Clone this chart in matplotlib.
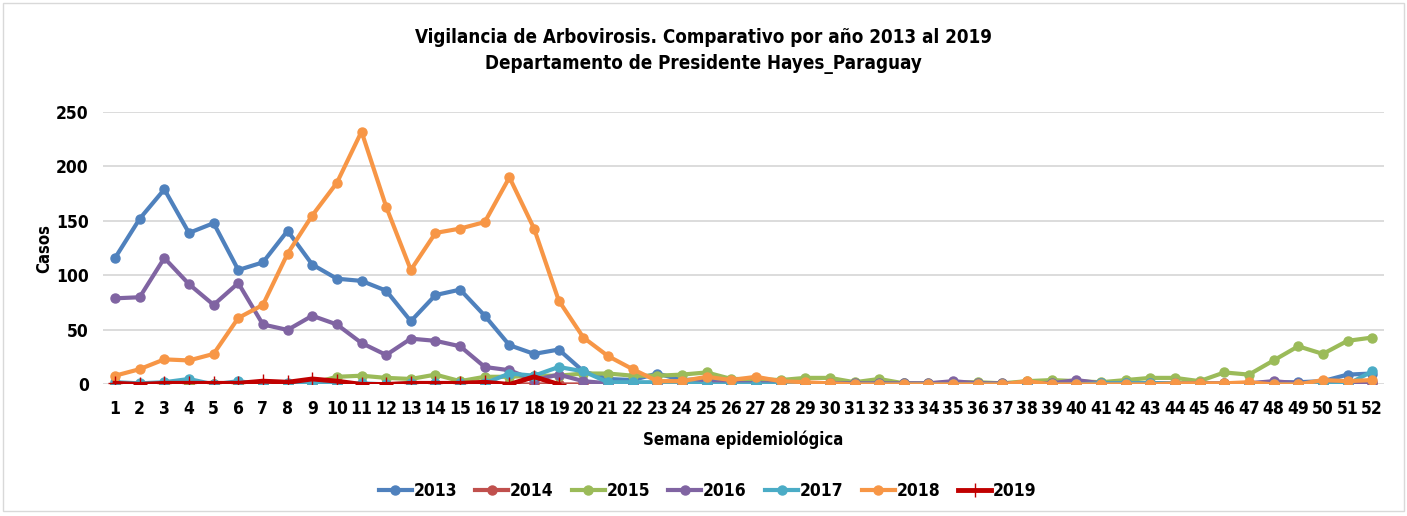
import matplotlib
matplotlib.use("Agg")
import matplotlib.pyplot as plt
from matplotlib.patches import Rectangle

plt.rcParams['font.family'] = ['DejaVu Sans']
plt.rcParams['font.stretch'] = 'condensed'

# data: cases per epidemiological week
semanas = list(range(1, 53))

c2013 = [116, 152, 179, 139, 148, 105, 112, 141, 110, 97, 95, 86, 58, 82, 87, 63, 36, 28, 32, 12,
         5, 4, 10, 4, 5, 3, 2, 1, 1, 1, 1, 1, 1, 0, 1, 1, 0, 1, 1, 1,
         1, 1, 1, 1, 1, 1, 1, 2, 2, 3, 9, 10]
c2014 = [0, 0, 0, 0, 0, 0, 0, 0, 0, 0, 0, 0, 0, 0, 0, 0, 0, 0, 0, 0,
         0, 0, 0, 0, 0, 0, 0, 0, 0, 0, 0, 0, 0, 0, 0, 0, 0, 0, 0, 0,
         0, 0, 0, 0, 0, 0, 0, 0, 0, 0, 0, 1]
c2015 = [0, 0, 0, 0, 0, 0, 0, 0, 1, 7, 8, 6, 5, 9, 3, 7, 7, 8, 8, 10,
         10, 8, 8, 9, 11, 5, 5, 4, 6, 6, 2, 5, 1, 1, 2, 2, 1, 3, 4, 3,
         2, 4, 6, 6, 3, 11, 9, 22, 35, 28, 40, 43]
c2016 = [79, 80, 116, 92, 73, 93, 55, 50, 63, 55, 38, 27, 42, 40, 35, 16, 13, 4, 9, 3,
         1, 1, 1, 1, 2, 1, 1, 1, 1, 1, 1, 1, 1, 1, 3, 1, 1, 1, 1, 4,
         1, 1, 1, 1, 1, 1, 1, 3, 1, 2, 2, 2]
c2017 = [2, 1, 2, 5, 0, 3, 0, 1, 1, 0, 1, 0, 1, 1, 1, 1, 10, 8, 16, 12,
         2, 2, 2, 2, 0, 0, 0, 0, 0, 0, 0, 0, 0, 0, 0, 0, 0, 0, 0, 0,
         1, 1, 1, 1, 0, 0, 0, 0, 0, 0, 0, 12]
c2018 = [8, 14, 23, 22, 28, 61, 73, 120, 155, 185, 232, 163, 105, 139, 143, 149, 190, 143, 77, 43,
         26, 14, 3, 3, 7, 4, 7, 3, 2, 1, 0, 0, 0, 0, 0, 0, 0, 3, 0, 0,
         0, 0, 0, 1, 1, 1, 2, 0, 0, 4, 3, 4]
sem2019 = list(range(1, 20))
c2019 = [1, 0, 1, 1, 1, 1, 3, 2, 5, 3, 0, 0, 1, 1, 1, 2, 0, 7, 0]

series = [
    ("2013", semanas, c2013, "#4F81BD"),
    ("2014", semanas, c2014, "#C0504D"),
    ("2015", semanas, c2015, "#9BBB59"),
    ("2016", semanas, c2016, "#8064A2"),
    ("2017", semanas, c2017, "#4BACC6"),
    ("2018", semanas, c2018, "#F79646"),
]

fig = plt.figure(figsize=(14.07, 5.16), dpi=100)
ax = fig.add_axes([0.073, 0.255, 0.911, 0.528])

for lab, x, y, col in series:
    ax.plot(x, y, color=col, lw=3, marker='o', ms=6.5, label=lab, zorder=3)
ax.plot(sem2019, c2019, color="#C00000", lw=3.5, marker='+', ms=10, mew=1,
        label="2019", zorder=4)

ax.set_xlim(0.5, 52.5)
ax.set_ylim(0, 250)
ax.set_xticks(semanas)
ax.set_yticks(range(0, 251, 50))
ax.tick_params(axis='both', length=0, labelsize=12.5)
for t in ax.get_xticklabels() + ax.get_yticklabels():
    t.set_fontweight('bold')
ax.tick_params(axis='x', pad=11)
ax.tick_params(axis='y', pad=10)
ax.grid(axis='y', color='#D9D9D9', lw=1.3, zorder=0)
for s in ax.spines.values():
    s.set_visible(False)

ax.set_ylabel("Casos", fontsize=12, fontweight='bold', labelpad=2)
ax.set_xlabel("Semana epidemiológica", fontsize=12, fontweight='bold', labelpad=9)

fig.text(0.5, 0.927, "Vigilancia de Arbovirosis. Comparativo por año 2013 al 2019",
         ha='center', va='center', fontsize=13.5, fontweight='bold')
fig.text(0.5, 0.875, "Departamento de Presidente Hayes_Paraguay",
         ha='center', va='center', fontsize=13.5, fontweight='bold')

leg = fig.legend(loc='center', bbox_to_anchor=(0.503, 0.048), ncol=7, frameon=False,
                 prop={'size': 12.5, 'weight': 'bold'}, handlelength=1.9,
                 columnspacing=1.05, handletextpad=0.1)

fig.patches.append(Rectangle((0.002, 0.01), 0.996, 0.985, transform=fig.transFigure,
                             fill=False, edgecolor='#D9D9D9', lw=1))

fig.savefig("out.png", dpi=100)
